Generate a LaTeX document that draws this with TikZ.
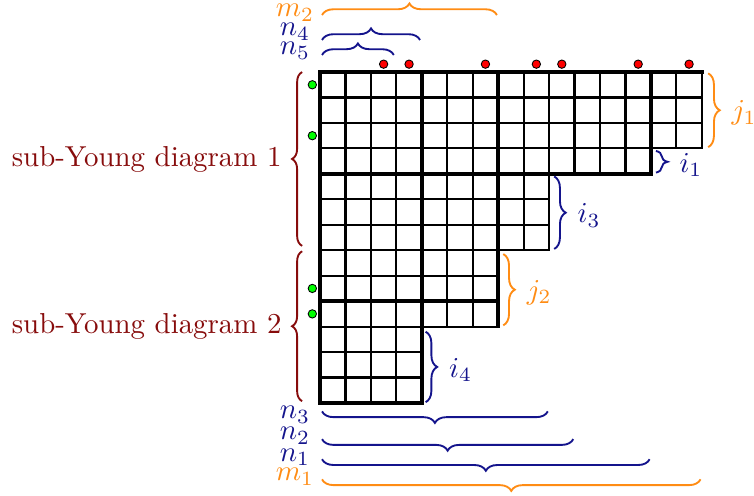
\documentclass[tikz,border=0pt]{standalone}
\usetikzlibrary{decorations.pathreplacing}
\definecolor{darkred}{RGB}{135,12,12}
\definecolor{navy}{RGB}{20,20,140}
\definecolor{amber}{RGB}{255,140,20}

\begin{document}
\begin{tikzpicture}[
    x=0.31cm, y=-0.31cm,
    cell/.style={line width=0.75pt},
    heavy/.style={line width=1.2pt, line cap=rect},
    brc/.style={decorate, decoration={brace, amplitude=4pt}, line width=0.65pt},
    lbl/.style={anchor=base, inner sep=0pt},
    side/.style={midway, anchor=west, xshift=4.5pt, yshift=-1pt},
    rdot/.style={circle, draw=black, line width=0.3pt, fill=red,
                 inner sep=0pt, minimum size=2.9pt},
    gdot/.style={circle, draw=black, line width=0.3pt, fill=green,
                 inner sep=0pt, minimum size=2.9pt}
]
\useasboundingbox (-12.57,-2.83) rectangle (17.05,16.65);

% cells, row by row
\foreach \r/\len in {0/15,1/15,2/15,3/13,4/9,5/9,6/9,7/7,8/7,9/7,10/4,11/4,12/4}
  \foreach \c in {1,...,\len}
    \draw[cell] (\c-1,\r) rectangle (\c,\r+1);

% heavy lines
\foreach \c/\h in {0/13,1/13,4/13,7/10,10/4,13/4}
  \draw[heavy] (\c,0) -- (\c,\h);
\foreach \r/\w in {0/15,4/13,9/7,13/4}
  \draw[heavy] (0,\r) -- (\w,\r);

% dots
\foreach \c [count=\k] in {2.5,3.5,6.5,8.5,9.5,12.5,14.5}
  \node[rdot] (r\k) at (\c,-0.31) {};
\foreach \r [count=\k] in {0.5,2.5,8.5,9.5}
  \node[gdot] (g\k) at (-0.3,\r) {};

% braces on top
\draw[brc, amber] (0.08,-2.24) -- (6.95,-2.24);
\draw[brc, navy]  (0.08,-1.26) -- (3.93,-1.26);
\draw[brc, navy]  (0.08,-0.67) -- (2.9,-0.67);
\node[lbl, amber] (m2) at (-0.98,-2.17) {$m_2$};
\node[lbl, navy]  (n4) at (-0.98,-1.42) {$n_4$};
\node[lbl, navy]  (n5) at (-0.98,-0.67) {$n_5$};

% braces below
\draw[brc, navy]  (8.95,13.33) -- (0.08,13.33);
\draw[brc, navy]  (9.95,14.42) -- (0.08,14.42);
\draw[brc, navy]  (12.95,15.21) -- (0.08,15.21);
\draw[brc, amber] (14.95,16) -- (0.08,16);
\node[lbl, navy]  (n3) at (-0.98,13.62) {$n_3$};
\node[lbl, navy]  (n2) at (-0.98,14.45) {$n_2$};
\node[lbl, navy]  (n1) at (-0.98,15.28) {$n_1$};
\node[lbl, amber] (m1) at (-0.98,16.06) {$m_1$};

% braces on the right
\draw[brc, amber] (15.25,0.05) -- (15.25,2.95) node[side, amber] (j1) {$j_1$};
\draw[brc, navy]  (13.2,3.1) -- (13.2,3.95) node[side, navy] (i1) {$i_1$};
\draw[brc, navy]  (9.2,4.1) -- (9.2,6.95) node[side, navy] (i3) {$i_3$};
\draw[brc, amber] (7.2,7.15) -- (7.2,9.95) node[side, amber] (j2) {$j_2$};
\draw[brc, navy]  (4.15,10.2) -- (4.15,12.97) node[side, navy] (i4) {$i_4$};

% sub-diagrams
\draw[brc, darkred, decoration={amplitude=3.5pt}] (-0.7,6.83) -- (-0.7,0)
  node[midway, anchor=east, xshift=-3.5pt, darkred] (sub1) {sub-Young diagram 1};
\draw[brc, darkred, decoration={amplitude=3.5pt}] (-0.7,12.93) -- (-0.7,7.04)
  node[midway, anchor=east, xshift=-3.5pt, darkred] (sub2) {sub-Young diagram 2};

\end{tikzpicture}
\end{document}
